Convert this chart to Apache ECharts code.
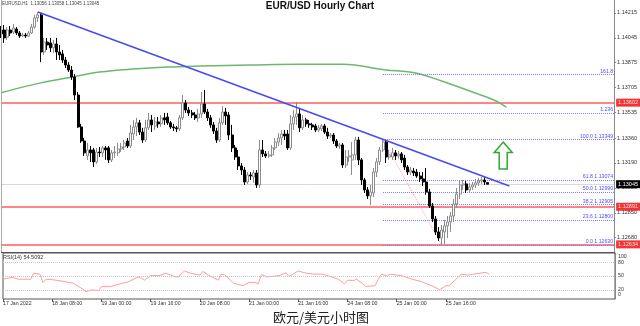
<!DOCTYPE html>
<html><head><meta charset="utf-8">
<script src="https://cdn.jsdelivr.net/npm/echarts@6/dist/echarts.min.js"></script>
<style>html,body{margin:0;padding:0;background:#fff}#c{width:640px;height:326px}</style>
</head><body><div id="c"></div>
<script>
// ---- hourly OHLC, EUR/USD H1, 17 Jan 16:00 -> 26 Jan 06:00 ----
const opens = [
1.14098,1.14098,1.14050,1.14098,1.14084,1.14105,1.14078,1.14057,1.14064,1.14057,
1.14078,1.14118,1.14181,1.14201,1.13948,1.14016,1.14010,1.13976,1.14003,1.13948,
1.13935,1.13893,1.13859,1.13825,1.13777,1.13654,1.13436,1.13340,1.13238,1.13279,
1.13279,1.13197,1.13265,1.13259,1.13293,1.13293,1.13211,1.13259,1.13259,1.13286,
1.13299,1.13340,1.13306,1.13388,1.13436,1.13464,1.13401,1.13347,1.13430,1.13484,
1.13443,1.13470,1.13457,1.13498,1.13504,1.13464,1.13436,1.13430,1.13423,1.13498,
1.13600,1.13552,1.13532,1.13518,1.13498,1.13525,1.13593,1.13538,1.13498,1.13450,
1.13408,1.13347,1.13464,1.13538,1.13518,1.13381,1.13293,1.13231,1.13170,1.13142,
1.13060,1.13108,1.13094,1.13122,1.13040,1.13279,1.13252,1.13238,1.13245,1.13293,
1.13333,1.13361,1.13388,1.13388,1.13293,1.13457,1.13504,1.13525,1.13430,1.13484,
1.13457,1.13450,1.13443,1.13415,1.13423,1.13443,1.13401,1.13374,1.13381,1.13340,
1.13306,1.13313,1.13176,1.13231,1.13211,1.13245,1.13347,1.13211,1.13074,1.13006,
1.12965,1.12985,1.13128,1.13197,1.13279,1.13333,1.13231,1.13231,1.13259,1.13238,
1.13252,1.13224,1.13162,1.13128,1.13135,1.13128,1.13101,1.13081,1.13060,1.12992,
1.12896,1.12808,1.12719,1.12678,1.12719,1.12760,1.12787,1.12828,1.12910,1.12978,
1.13040,1.13047,1.13006,1.13026,1.13040,1.13054,1.13067,1.13074,1.13056];
const highs = [
1.14125,1.14132,1.14118,1.14125,1.14140,1.14118,1.14091,1.14078,1.14078,1.14091,
1.14140,1.14201,1.14221,1.14215,1.14044,1.14044,1.14044,1.14030,1.14044,1.13996,
1.13962,1.13914,1.13879,1.13852,1.13798,1.13675,1.13457,1.13361,1.13327,1.13306,
1.13293,1.13293,1.13299,1.13306,1.13306,1.13306,1.13279,1.13306,1.13327,1.13327,
1.13347,1.13361,1.13450,1.13484,1.13498,1.13484,1.13430,1.13484,1.13532,1.13518,
1.13504,1.13504,1.13518,1.13532,1.13532,1.13477,1.13457,1.13443,1.13518,1.13654,
1.13620,1.13572,1.13552,1.13538,1.13559,1.13675,1.13689,1.13559,1.13518,1.13470,
1.13430,1.13498,1.13579,1.13566,1.13538,1.13450,1.13313,1.13279,1.13190,1.13162,
1.13128,1.13128,1.13142,1.13142,1.13347,1.13347,1.13272,1.13272,1.13313,1.13361,
1.13395,1.13415,1.13415,1.13415,1.13518,1.13552,1.13606,1.13566,1.13518,1.13498,
1.13484,1.13464,1.13457,1.13450,1.13457,1.13457,1.13430,1.13395,1.13395,1.13354,
1.13327,1.13327,1.13279,1.13279,1.13333,1.13368,1.13368,1.13224,1.13088,1.13026,
1.13040,1.13156,1.13224,1.13299,1.13349,1.13340,1.13279,1.13293,1.13279,1.13272,
1.13265,1.13245,1.13176,1.13162,1.13156,1.13149,1.13128,1.13128,1.13156,1.13013,
1.12917,1.12828,1.12753,1.12767,1.12801,1.12828,1.12855,1.12944,1.13019,1.13074,
1.13074,1.13067,1.13054,1.13060,1.13081,1.13088,1.13094,1.13094,1.13058];
const lows = [
1.14044,1.14010,1.14030,1.14057,1.14071,1.14064,1.14044,1.14050,1.14044,1.14050,
1.14071,1.14105,1.14153,1.13879,1.13928,1.13962,1.13948,1.13942,1.13893,1.13893,
1.13873,1.13839,1.13811,1.13757,1.13620,1.13430,1.13327,1.13238,1.13211,1.13197,
1.13162,1.13184,1.13231,1.13231,1.13211,1.13190,1.13197,1.13224,1.13238,1.13265,
1.13279,1.13293,1.13293,1.13347,1.13374,1.13381,1.13327,1.13333,1.13415,1.13401,
1.13415,1.13430,1.13436,1.13450,1.13450,1.13423,1.13408,1.13401,1.13408,1.13484,
1.13532,1.13511,1.13498,1.13484,1.13470,1.13498,1.13525,1.13477,1.13430,1.13388,
1.13327,1.13333,1.13450,1.13450,1.13347,1.13265,1.13211,1.13142,1.13108,1.13040,
1.13047,1.13074,1.13054,1.13019,1.13019,1.13231,1.13224,1.13224,1.13231,1.13279,
1.13306,1.13313,1.13347,1.13279,1.13279,1.13415,1.13450,1.13401,1.13415,1.13436,
1.13430,1.13415,1.13401,1.13401,1.13408,1.13388,1.13354,1.13361,1.13320,1.13293,
1.13286,1.13156,1.13156,1.13197,1.13108,1.13211,1.13176,1.13040,1.12985,1.12944,
1.12903,1.12958,1.13094,1.13176,1.13265,1.13190,1.13211,1.13211,1.13211,1.13218,
1.13190,1.13142,1.13108,1.13108,1.13101,1.13088,1.13060,1.13033,1.12972,1.12883,
1.12787,1.12698,1.12657,1.12630,1.12637,1.12678,1.12719,1.12787,1.12883,1.12944,
1.13006,1.12985,1.12992,1.13006,1.13019,1.13033,1.13047,1.13040,1.13045];
const closes = [
1.14071,1.14044,1.14098,1.14078,1.14112,1.14078,1.14057,1.14064,1.14057,1.14078,
1.14118,1.14181,1.14201,1.13948,1.14016,1.13996,1.13976,1.14003,1.13948,1.13928,
1.13893,1.13859,1.13825,1.13777,1.13654,1.13436,1.13340,1.13259,1.13279,1.13259,
1.13197,1.13265,1.13259,1.13293,1.13279,1.13211,1.13259,1.13265,1.13286,1.13299,
1.13327,1.13306,1.13395,1.13436,1.13464,1.13401,1.13347,1.13430,1.13484,1.13450,
1.13470,1.13457,1.13498,1.13484,1.13464,1.13436,1.13430,1.13423,1.13498,1.13600,
1.13552,1.13532,1.13518,1.13498,1.13525,1.13593,1.13538,1.13498,1.13450,1.13408,
1.13347,1.13464,1.13538,1.13511,1.13381,1.13293,1.13231,1.13170,1.13142,1.13060,
1.13108,1.13101,1.13122,1.13040,1.13279,1.13252,1.13238,1.13245,1.13293,1.13333,
1.13361,1.13388,1.13374,1.13293,1.13457,1.13504,1.13525,1.13430,1.13484,1.13457,
1.13450,1.13436,1.13415,1.13430,1.13443,1.13401,1.13374,1.13381,1.13340,1.13306,
1.13313,1.13176,1.13231,1.13238,1.13245,1.13347,1.13211,1.13074,1.13006,1.12965,
1.12992,1.13128,1.13197,1.13279,1.13333,1.13231,1.13245,1.13259,1.13238,1.13252,
1.13211,1.13162,1.13128,1.13142,1.13122,1.13101,1.13081,1.13060,1.12992,1.12896,
1.12808,1.12719,1.12678,1.12732,1.12760,1.12787,1.12828,1.12910,1.12978,1.13040,
1.13047,1.13006,1.13026,1.13040,1.13054,1.13067,1.13074,1.13060,1.13045];

// moving average (read at points along the green curve), [barIndex, price]
const maPoints = [[0,1.13669],[6,1.13703],[13,1.13737],[23,1.13777],[32,1.13811],[43,1.13832],[54,1.13845],[65,1.13852],[81,1.13859],[97,1.13864],[111,1.13864],[125,1.13825],[132,1.13813],[136,1.13798],[143,1.13750],[153,1.13675],[160,1.13620],[164,1.13572]];
// RSI(14), [barIndex, value]
const rsiPoints = [[0,43],[3,47],[5,43],[9,43],[10,56],[12,54],[13,36],[14,43],[16,42],[19,39],[23,34],[26,21],[27,16],[29,20],[31,18],[32,27],[35,27],[38,33],[40,36],[41,38],[44,48],[45,45],[46,41],[48,51],[51,51],[53,56],[56,48],[57,48],[59,61],[61,56],[64,52],[65,60],[67,51],[70,41],[71,54],[72,53],[74,41],[75,34],[78,29],[80,36],[82,36],[83,33],[84,53],[86,48],[90,51],[92,57],[93,49],[96,61],[98,57],[101,54],[104,54],[106,50],[109,43],[111,33],[112,41],[114,40],[115,43],[117,33],[118,27],[121,29],[122,43],[123,54],[125,50],[126,54],[130,50],[133,43],[136,38],[140,27],[142,20],[144,29],[145,29],[147,41],[149,54],[151,52],[153,54],[157,58],[158,54.5]];

const trendLine = [[12,1.14221],[165,1.13033]];
const fibSwing = [[124,1.13349],[143,1.12630]];
const fibLevels = [1.13793,1.13530,1.13349,1.13074,1.12990,1.12905,1.12800,1.12630];
const fibLabels = ['161.8','1.236','100.0 1.13349','61.8 1.13074','50.0 1.12990','38.2 1.12905','23.6 1.12800','0.0 1.12630'];
const redLevels = [1.13602,1.12891,1.12634];
const lastPrice = 1.13045;
const priceTicks = [1.14215,1.14045,1.13875,1.13705,1.13535,1.13360,1.13190,1.13020,1.12850,1.12680];
const rsiTicks = [93,80,50,20,9];
const rsiTickText = {93:'100',80:'80',50:'50',20:'20',9:'0'};
const rsiLevels = [80,50,20];
const xTickLabels = ['17 Jan 2022','18 Jan 08:00','19 Jan 00:00','19 Jan 16:00','20 Jan 08:00','21 Jan 00:00','21 Jan 16:00','24 Jan 08:00','25 Jan 00:00','25 Jan 16:00'];

// hourly categories (weekends skipped), 200 slots
const months = ['Jan','Feb','Mar','Apr','May','Jun','Jul','Aug','Sep','Oct','Nov','Dec'];
const categories = [];
(function(){let t=Date.UTC(2022,0,17,16);while(categories.length<200){const d=new Date(t);const w=d.getUTCDay();if(w!==0&&w!==6){categories.push(d.getUTCDate()+' '+months[d.getUTCMonth()]+' '+String(d.getUTCHours()).padStart(2,'0')+':00');}t+=3600000;}})();

const candles = opens.map((o,i)=>[o,closes[i],lows[i],highs[i]]);

const F = 'Liberation Sans, Arial, sans-serif';
const endLbl = (txt,bg)=>({show:true,position:'end',distance:2,formatter:txt,backgroundColor:bg,color:'#fff',fontSize:5.5,fontFamily:F,padding:[1,2,1,2]});
const hLine = (v,style,label)=>[
  {coord:[categories[0],v],lineStyle:style,label:label},
  {coord:[categories[199],v]}
];

const chart = echarts.init(document.getElementById('c'), null, {renderer:'canvas', width:640, height:326});
const showTick = (i)=> i%16===0 && i/16 < xTickLabels.length;

const baseGraphic = [
  {type:'text',left:'center',top:1,style:{text:'EUR/USD Hourly Chart',font:'bold 10px '+F,fill:'#111'},z:10},
  {type:'text',x:2,y:1,style:{text:'EURUSD,H1  1.13056 1.13058 1.13045 1.13045',font:'4.5px '+F,fill:'#444'},z:10},
  {type:'text',x:3,y:254.5,style:{text:'RSI(14) 54.5092',font:'5.5px '+F,fill:'#333'},z:10},
  {type:'text',x:321,y:311,style:{text:'欧元/美元小时图',font:'13px "Noto Sans CJK SC", sans-serif',fill:'#222',textAlign:'center'},z:10},
  {type:'line',shape:{x1:1.5,y1:0,x2:1.5,y2:252},style:{stroke:'#aaa',lineWidth:1},z:10},
  {type:'line',shape:{x1:1,y1:252.5,x2:615,y2:252.5},style:{stroke:'#555',lineWidth:1},z:10}
];

chart.setOption({
  animation:false,
  backgroundColor:'#fff',
  grid:[
    {left:1,right:25,top:0,height:252,show:false},
    {left:1,right:25,top:253,height:46,show:true,borderColor:'#555',borderWidth:1,backgroundColor:'transparent'}
  ],
  xAxis:[
    {gridIndex:0,type:'category',data:categories,boundaryGap:false,axisLine:{show:false},axisTick:{show:false},axisLabel:{show:false},splitLine:{show:false}},
    {gridIndex:1,type:'category',data:categories,boundaryGap:false,axisLine:{show:false},
     axisTick:{show:true,interval:(i)=>showTick(i),length:3,lineStyle:{color:'#555'}},
     axisLabel:{interval:(i)=>showTick(i),formatter:(v,i)=>xTickLabels[i/16]||'',fontSize:5.2,fontFamily:F,color:'#333',align:'left',margin:2},
     splitLine:{show:false}}
  ],
  yAxis:[
    {gridIndex:0,type:'value',position:'right',min:1.12582,max:1.14303,
     axisLine:{show:true,lineStyle:{color:'#888'}},
     axisTick:{show:true,length:2,customValues:priceTicks,lineStyle:{color:'#888'}},
     axisLabel:{customValues:priceTicks,formatter:(v)=>v.toFixed(5),fontSize:5.5,fontFamily:F,color:'#333',margin:3},
     splitLine:{show:false}},
    {gridIndex:1,type:'value',position:'right',min:0,max:100,
     axisLine:{show:true,lineStyle:{color:'#888'}},
     axisTick:{show:false},
     axisLabel:{customValues:rsiTicks,formatter:(v)=>rsiTickText[v]||'',fontSize:5.2,fontFamily:F,color:'#333',margin:3},
     splitLine:{show:false}}
  ],
  series:[
    {type:'candlestick',xAxisIndex:0,yAxisIndex:0,data:candles,barWidth:2.5,z:5,
     itemStyle:{color:'#ffffff',color0:'#000000',borderColor:'#8c8c8c',borderColor0:'#000000',borderWidth:1}
    },
    {type:'line',xAxisIndex:0,yAxisIndex:0,data:maPoints,smooth:0.4,symbol:'none',lineStyle:{color:'#6cb86c',width:1.5},z:3},
    {type:'line',xAxisIndex:0,yAxisIndex:0,data:trendLine,symbol:'none',lineStyle:{color:'#4a4af5',width:1.6},z:6,
     markLine:{symbol:['none','none'],silent:true,animation:false,z:2,
       data:[
         hLine(lastPrice,{color:'#d9d9d9',width:1,type:'solid'},endLbl(lastPrice.toFixed(5),'#000')),
         ...redLevels.map(v=>hLine(v,{color:'#ff7070',width:2,type:'solid',opacity:0.85},endLbl(v.toFixed(5),'#ee1111')))
       ]}
    },
    {type:'line',xAxisIndex:0,yAxisIndex:0,data:fibSwing,symbol:'none',lineStyle:{color:'#ff9a9a',width:1,type:'dotted'},z:3,
     markLine:{symbol:['none','none'],silent:true,animation:false,
       lineStyle:{color:'#7a7aff',width:1,type:'dotted'},
       data: fibLevels.map((v,k)=>[
         {coord:[categories[124],v],label:{show:true,position:'insideEndTop',distance:1,formatter:fibLabels[k],color:'#4d4dff',fontSize:5.2,fontFamily:F}},
         {coord:[categories[199],v]}
       ])}
    },
    {type:'line',xAxisIndex:1,yAxisIndex:1,data:rsiPoints,symbol:'none',lineStyle:{color:'#ff9d9d',width:1},
     markLine:{symbol:['none','none'],silent:true,animation:false,label:{show:false},
       lineStyle:{color:'#c8c8c8',width:1,type:'dotted'},
       data:rsiLevels.map(v=>({yAxis:v}))}
    }
  ],
  graphic: baseGraphic
});

// green up-arrow annotation anchored to a data position
const tip = chart.convertToPixel({xAxisIndex:0,yAxisIndex:0},[163,1.13333]);
const tx = tip[0], ty = tip[1];
chart.setOption({graphic: baseGraphic.concat([
  {type:'polygon',shape:{points:[[tx,ty],[tx+9,ty+10.5],[tx+4,ty+10.5],[tx+4,ty+27],[tx-4,ty+27],[tx-4,ty+10.5],[tx-9,ty+10.5]]},
   style:{fill:'#fff',stroke:'#2eaa2e',lineWidth:1.5},z:10}
])}, {replaceMerge:['graphic']});
</script>
</body></html>
